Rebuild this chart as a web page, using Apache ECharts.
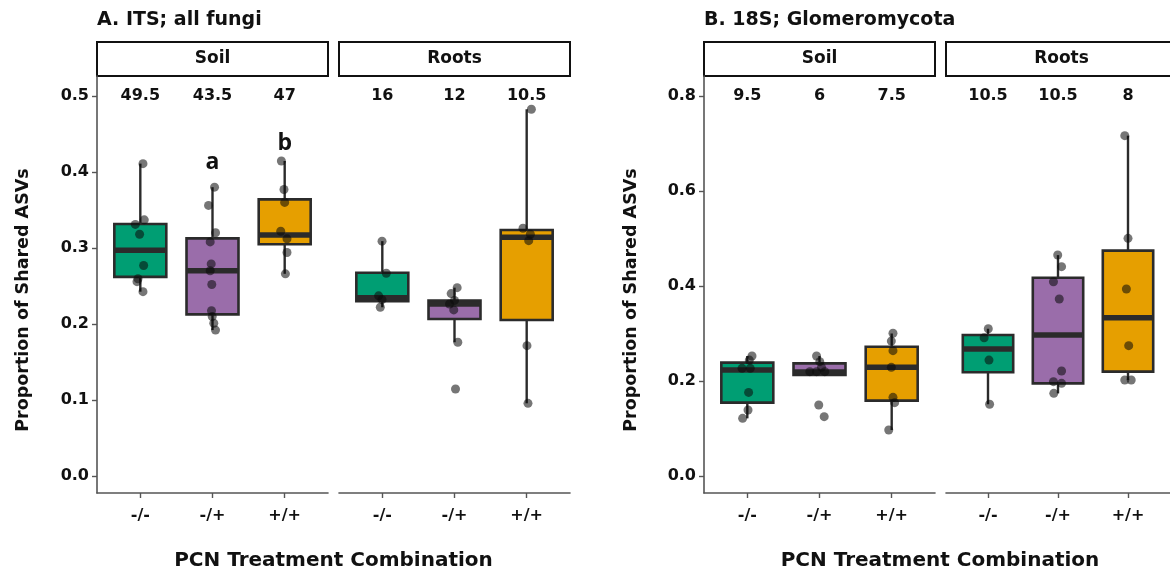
<!DOCTYPE html>
<html>
<head>
<meta charset="utf-8">
<script src="https://cdn.jsdelivr.net/npm/echarts@6/dist/echarts.min.js"></script>
<style>
  html, body { margin: 0; padding: 0; background: #fff; }
  #chart { width: 1170px; height: 573px; }
</style>
</head>
<body>
<div id="chart"></div>
<script>
// categories
const treatments = ['-/-', '-/+', '+/+'];

// box stats per treatment: [lower whisker, Q1, median, Q3, upper whisker]
const itsSoilBoxes = [
  [0.2425, 0.262, 0.297, 0.3316, 0.411],
  [0.192, 0.2127, 0.270, 0.3127, 0.380],
  [0.266, 0.305, 0.317, 0.364, 0.4145]
];
const itsRootsBoxes = [
  [0.222, 0.230, 0.2346, 0.2675, 0.309],
  [0.176, 0.2066, 0.2263, 0.2307, 0.2478],
  [0.0956, 0.2053, 0.314, 0.3237, 0.4825]
];
const glomSoilBoxes = [
  [0.1214, 0.1544, 0.223, 0.2386, 0.2526],
  [0.2126, 0.2126, 0.219, 0.237, 0.2526],
  [0.0968, 0.1586, 0.2288, 0.272, 0.300]
];
const glomRootsBoxes = [
  [0.151, 0.2183, 0.2674, 0.2968, 0.310],
  [0.174, 0.195, 0.2968, 0.4175, 0.465],
  [0.2021, 0.2197, 0.3334, 0.4744, 0.7165]
];

// jittered sample points: [treatment position, proportion]
const itsSoilPoints = [
  [1.037, 0.411], [1.055, 0.337], [0.931, 0.331], [0.99, 0.318], [1.046, 0.277],
  [0.968, 0.2595], [0.954, 0.2557], [1.037, 0.2425],
  [2.028, 0.380], [1.945, 0.356], [2.042, 0.320], [1.968, 0.308], [1.982, 0.279],
  [1.968, 0.270], [1.99, 0.252], [1.986, 0.2175], [1.996, 0.2097], [2.018, 0.201], [2.042, 0.192],
  [2.954, 0.4145], [2.99, 0.377], [3.0, 0.360], [2.945, 0.322], [3.032, 0.312],
  [3.032, 0.294], [3.01, 0.266]
];
const itsRootsPoints = [
  [0.996, 0.309], [1.055, 0.2667], [0.949, 0.237], [0.996, 0.232], [0.972, 0.222],
  [2.037, 0.2478], [1.954, 0.240], [2.0, 0.231], [1.931, 0.2263], [1.99, 0.2185],
  [2.046, 0.176], [2.014, 0.1145],
  [3.065, 0.4825], [2.949, 0.326], [3.051, 0.318], [3.028, 0.3096], [3.004, 0.1715], [3.018, 0.0956]
];
const glomSoilPoints = [
  [1.065, 0.2526], [1.028, 0.244], [0.927, 0.2267], [1.041, 0.2267], [1.018, 0.176],
  [1.01, 0.139], [0.935, 0.1214],
  [1.959, 0.2526], [2.004, 0.2407], [2.028, 0.2288], [1.866, 0.2196], [1.959, 0.2196],
  [2.073, 0.2196], [1.99, 0.1495], [2.065, 0.1249],
  [3.018, 0.3004], [2.995, 0.284], [3.018, 0.2638], [2.995, 0.2288], [3.018, 0.1656],
  [3.041, 0.1544], [2.959, 0.0968]
];
const glomRootsPoints = [
  [1.004, 0.310], [0.945, 0.291], [1.014, 0.244], [1.023, 0.151],
  [1.996, 0.4653], [2.051, 0.4407], [1.935, 0.409], [2.018, 0.3726], [2.051, 0.221],
  [1.935, 0.1986], [2.051, 0.1951], [1.94, 0.174],
  [2.954, 0.7165], [3.0, 0.5003], [2.977, 0.3937], [3.01, 0.2744], [2.954, 0.2021], [3.046, 0.2021]
];

// numbers printed above each box
const itsSoilCounts = ['49.5', '43.5', '47'];
const itsRootsCounts = ['16', '12', '10.5'];
const glomSoilCounts = ['9.5', '6', '7.5'];
const glomRootsCounts = ['10.5', '10.5', '8'];

// significance letters (ITS soil)
const sigLetters = ['a', 'b'];
const sigLetterPos = [2, 3];
const sigLetterY = [0.413, 0.438];

// y tick labels
const itsTicks = [0, 0.1, 0.2, 0.3, 0.4, 0.5];
const glomTicks = [0, 0.2, 0.4, 0.6, 0.8];

const boxColors = ['#009E73', '#9A6DAA', '#E69F00'];
const ink = '#111';
const font = 'DejaVu Sans';

const chart = echarts.init(document.getElementById('chart'));

const panels = [
  { left: 97, strip: 'Soil', boxes: itsSoilBoxes, points: itsSoilPoints, counts: itsSoilCounts,
    yMin: -0.0224, yMax: 0.5263, ticks: itsTicks, countY: 0.5, showY: true },
  { left: 339, strip: 'Roots', boxes: itsRootsBoxes, points: itsRootsPoints, counts: itsRootsCounts,
    yMin: -0.0224, yMax: 0.5263, ticks: itsTicks, countY: 0.5, showY: false },
  { left: 704, strip: 'Soil', boxes: glomSoilBoxes, points: glomSoilPoints, counts: glomSoilCounts,
    yMin: -0.0358, yMax: 0.8421, ticks: glomTicks, countY: 0.8, showY: true },
  { left: 946, strip: 'Roots', boxes: glomRootsBoxes, points: glomRootsPoints, counts: glomRootsCounts,
    yMin: -0.0358, yMax: 0.8421, ticks: glomTicks, countY: 0.8, showY: false }
];
const gridTop = 76, gridHeight = 417, gridWidth = 231, stripTop = 42;

function renderBox(params, api) {
  const x = api.value(0);
  const halfW = api.size([0.72, 0])[0] / 2;
  const lo = api.coord([x, api.value(1)]);
  const q1 = api.coord([x, api.value(2)]);
  const md = api.coord([x, api.value(3)]);
  const q3 = api.coord([x, api.value(4)]);
  const hi = api.coord([x, api.value(5)]);
  const cx = lo[0];
  const line = { stroke: '#2b2b2b', lineWidth: 2.4 };
  return {
    type: 'group',
    children: [
      { type: 'line', shape: { x1: cx, y1: hi[1], x2: cx, y2: q3[1] }, style: line },
      { type: 'line', shape: { x1: cx, y1: q1[1], x2: cx, y2: lo[1] }, style: line },
      { type: 'rect', shape: { x: cx - halfW, y: q3[1], width: 2 * halfW, height: q1[1] - q3[1] },
        style: { fill: boxColors[x - 1], stroke: '#2b2b2b', lineWidth: 2.6 } },
      { type: 'line', shape: { x1: cx - halfW, y1: md[1], x2: cx + halfW, y2: md[1] },
        style: { stroke: '#2b2b2b', lineWidth: 5.5 } }
    ]
  };
}

// plain text placed at a data position
function textRenderer(texts, size, family) {
  return (params, api) => {
    const pt = api.coord([api.value(0), api.value(1)]);
    return {
      type: 'text', x: pt[0], y: pt[1],
      style: { text: texts[params.dataIndex], fill: ink, fontFamily: family,
        fontWeight: 'bold', fontSize: size, align: 'center', verticalAlign: 'middle' }
    };
  };
}

const grid = [], xAxis = [], yAxis = [], series = [], graphic = [];
const axisLine = { show: true, onZero: false, lineStyle: { color: '#555', width: 1.6 } };

panels.forEach((p, i) => {
  grid.push({ left: p.left, top: gridTop, width: gridWidth, height: gridHeight });
  xAxis.push({
    type: 'value', gridIndex: i, min: 0.4, max: 3.6,
    axisLine: axisLine,
    axisTick: { show: true, customValues: [1, 2, 3], length: 5, lineStyle: { color: '#555', width: 1.4 } },
    axisLabel: { customValues: [1, 2, 3], formatter: v => treatments[Math.round(v) - 1],
      margin: 15, color: ink, fontFamily: font, fontWeight: 'bold', fontSize: 16 },
    splitLine: { show: false }
  });
  yAxis.push({
    type: 'value', gridIndex: i, min: p.yMin, max: p.yMax, show: p.showY,
    axisLine: axisLine,
    axisTick: { show: true, customValues: p.ticks, length: 5, lineStyle: { color: '#555', width: 1.4 } },
    axisLabel: { customValues: p.ticks, formatter: v => v.toFixed(1),
      margin: 8, color: ink, fontFamily: font, fontWeight: 'bold', fontSize: 16 },
    splitLine: { show: false }
  });
  series.push({
    type: 'custom', xAxisIndex: i, yAxisIndex: i, renderItem: renderBox,
    encode: { x: 0, y: [1, 2, 3, 4, 5] },
    data: p.boxes.map((b, k) => [k + 1].concat(b)), z: 2
  });
  series.push({
    type: 'scatter', xAxisIndex: i, yAxisIndex: i, data: p.points,
    symbolSize: 9, itemStyle: { color: 'rgba(10,10,10,0.7)' }, z: 3
  });
  series.push({
    type: 'custom', xAxisIndex: i, yAxisIndex: i, silent: true,
    renderItem: textRenderer(p.counts, 16, font),
    data: p.counts.map((c, k) => [k + 1, p.countY]), z: 4
  });
  // strip header
  graphic.push({
    type: 'rect', shape: { x: p.left, y: stripTop, width: gridWidth, height: gridTop - stripTop },
    style: { fill: '#fff', stroke: ink, lineWidth: 2 }
  });
  graphic.push({
    type: 'text', x: p.left + gridWidth / 2, y: (stripTop + gridTop) / 2,
    style: { text: p.strip, fill: ink, fontFamily: font, fontWeight: 'bold', fontSize: 17,
      align: 'center', verticalAlign: 'middle' }
  });
});

// a / b letters on ITS soil
series.push({
  type: 'custom', xAxisIndex: 0, yAxisIndex: 0, silent: true,
  renderItem: textRenderer(sigLetters, 23, 'Open Sans'),
  data: sigLetters.map((l, k) => [sigLetterPos[k], sigLetterY[k]]), z: 4
});

const titleStyle = { fill: ink, fontFamily: font, fontWeight: 'bold' };
[
  { text: 'A. ITS; all fungi', x: 97, yTitleX: 23, xTitleX: 333.5 },
  { text: 'B. 18S; Glomeromycota', x: 704, yTitleX: 631, xTitleX: 940 }
].forEach(t => {
  graphic.push({ type: 'text', x: t.x, y: 20,
    style: Object.assign({ text: t.text, fontSize: 19, align: 'left', verticalAlign: 'middle' }, titleStyle) });
  graphic.push({ type: 'text', x: t.yTitleX, y: 300, rotation: Math.PI / 2,
    style: Object.assign({ text: 'Proportion of Shared ASVs', fontSize: 17.5, align: 'center', verticalAlign: 'middle' }, titleStyle) });
  graphic.push({ type: 'text', x: t.xTitleX, y: 561,
    style: Object.assign({ text: 'PCN Treatment Combination', fontSize: 20, align: 'center', verticalAlign: 'middle' }, titleStyle) });
});

chart.setOption({
  animation: false,
  backgroundColor: '#fff',
  grid: grid,
  xAxis: xAxis,
  yAxis: yAxis,
  series: series,
  graphic: graphic
});

window.addEventListener('resize', () => chart.resize());
</script>
</body>
</html>
